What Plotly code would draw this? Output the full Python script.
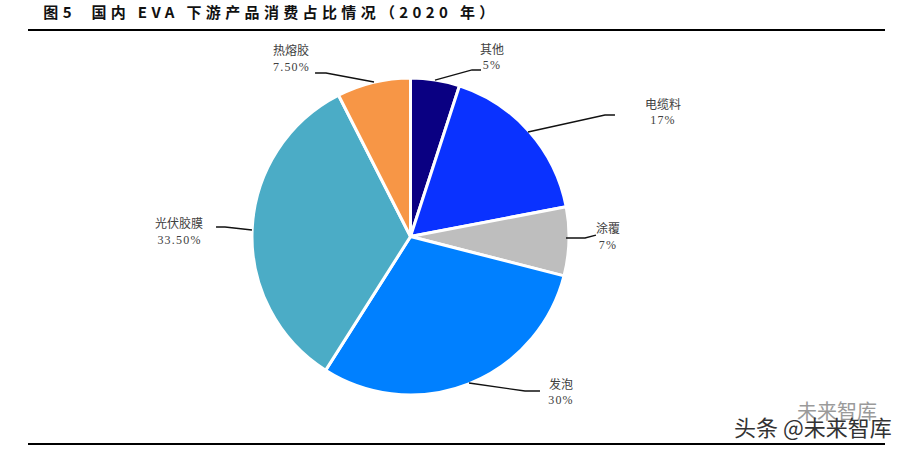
import plotly.graph_objects as go

categories = ["其他", "电缆料", "涂覆", "发泡", "光伏胶膜", "热熔胶"]
values = [5, 17, 7, 30, 33.5, 7.5]
value_labels = ["5%", "17%", "7%", "30%", "33.50%", "7.50%"]
colors = ["#0A0082", "#0A32FF", "#BEBEBE", "#0080FF", "#4BACC6", "#F79646"]
title_text = "图5  国内 EVA 下游产品消费占比情况（2020 年）"

W, H = 910, 451
fx = lambda x: x / W
fy = lambda y: 1 - y / H

label_pos = [(492, 56), (663, 111), (608, 236), (561, 391), (179, 231), (291, 58)]
leaders = [
    [(435, 80), (472, 70), (481, 70)],
    [(528, 132), (605, 115), (615, 115)],
    [(566, 238), (585, 238), (596, 235)],
    [(469, 383), (525, 391), (540, 391)],
    [(252, 230), (225, 227), (216, 227)],
    [(374, 82), (326, 73), (315, 73)],
]

fig = go.Figure(go.Pie(
    labels=categories, values=values, sort=False, direction="clockwise", rotation=0,
    marker=dict(colors=colors, line=dict(color="white", width=3)),
    textinfo="none", hoverinfo="label+percent", showlegend=False,
    domain=dict(x=[fx(252), fx(569)], y=[fy(395), fy(78)]),
))

shapes = []
for y in (30, 444):
    shapes.append(dict(type="line", xref="paper", yref="paper", x0=fx(28), x1=fx(885), y0=fy(y), y1=fy(y),
                       line=dict(color="black", width=2)))
for pts in leaders:
    path = "M " + " L ".join(f"{fx(x):.4f},{fy(y):.4f}" for x, y in pts)
    shapes.append(dict(type="path", xref="paper", yref="paper", path=path, line=dict(color="#111111", width=1.3)))


def note(x, y, text, size, color, family, **extra):
    return dict(x=fx(x), y=fy(y), xref="paper", yref="paper", text=text, showarrow=False,
                xanchor="center", yanchor="middle", font=dict(size=size, color=color, family=family), **extra)


annotations = [note(271, 11, f"<b>{title_text}</b>", 15, "#111111", "Noto Sans CJK SC", width=480)]
for cat, val, (x, y) in zip(categories, value_labels, label_pos):
    annotations.append(note(x, y - 8, cat, 12, "#404040", "Noto Sans CJK SC"))
    annotations.append(note(x, y + 9, val, 12, "#404040", "Liberation Serif"))
annotations.append(note(837, 410, "未来智库", 20, "#9A9A9A", "Noto Sans CJK SC"))
annotations.append(note(813, 426, "头条 @未来智库", 22, "#333333", "Noto Sans CJK SC"))

fig.update_layout(width=W, height=H, margin=dict(l=0, r=0, t=0, b=0), paper_bgcolor="white",
                  shapes=shapes, annotations=annotations)

value_rules = "".join(
    f'.annotation[data-index="{2 * i + 2}"] text{{letter-spacing:1.2px}}' for i in range(len(categories))
)
post = """
document.body.style.margin = '0';
var s = document.createElement('style');
s.textContent = '.annotation[data-index="0"] text{letter-spacing:4.35px}""" + value_rules + """';
document.head.appendChild(s);
"""
fig.write_html("out.html", post_script=post, config=dict(displayModeBar=False))
